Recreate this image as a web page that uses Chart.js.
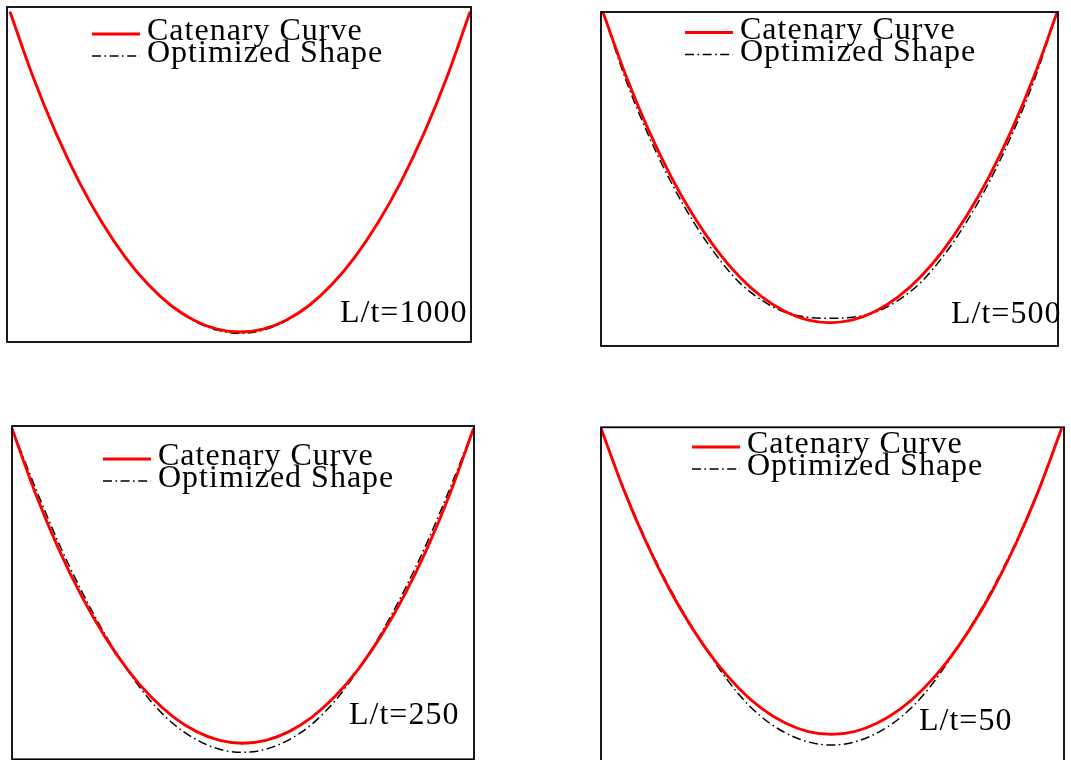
<!DOCTYPE html>
<html>
<head>
<meta charset="UTF-8">
<title>Catenary Curve vs Optimized Shape</title>
<script src="https://cdn.jsdelivr.net/npm/chart.js"></script>
<style>
  body {
    margin: 0;
    padding: 0;
    background: #ffffff;
    width: 1071px;
    height: 760px;
    overflow: hidden;
    position: relative;
  }
  canvas {
    position: absolute;
    display: block;
  }
</style>
</head>
<body>
<canvas id="p1" width="535" height="380" style="left:0;top:0"></canvas>
<canvas id="p2" width="536" height="380" style="left:535px;top:0"></canvas>
<canvas id="p3" width="535" height="400" style="left:0;top:380px"></canvas>
<canvas id="p4" width="536" height="400" style="left:535px;top:380px"></canvas>

<script>
  // normalised position along the span (-1 = left support, 1 = right support)
  const span = [-1.0, -0.9, -0.8, -0.7, -0.6, -0.5, -0.4, -0.3, -0.2, -0.1, 0.0,
                0.1, 0.2, 0.3, 0.4, 0.5, 0.6, 0.7, 0.8, 0.9, 1.0];

  // height above the lowest point of the catenary, supports at 100
  const catenary = [100, 79.7, 62.1, 47.0, 34.2, 23.5, 14.9, 8.3, 3.7, 0.9, 0,
                    0.9, 3.7, 8.3, 14.9, 23.5, 34.2, 47.0, 62.1, 79.7, 100];

  const optimized1000 = [100, 79.7, 62.1, 47.0, 34.2, 23.5, 14.9, 8.2, 3.5, 0.6, -0.4,
                         0.6, 3.5, 8.2, 14.9, 23.5, 34.2, 47.0, 62.1, 79.7, 100];
  const optimized500 = [100, 78.3, 60.4, 45.2, 32.3, 21.6, 13.0, 7.2, 3.4, 1.8, 1.4,
                        1.8, 3.4, 7.2, 13.0, 21.6, 32.3, 45.2, 60.4, 78.3, 100];
  const optimized250 = [100, 81.4, 64.0, 48.6, 35.0, 23.3, 13.5, 6.1, 1.1, -1.9, -2.9,
                        -1.9, 1.1, 6.1, 13.5, 23.3, 35.0, 48.6, 64.0, 81.4, 100];
  const optimized50 = [100, 80.1, 62.7, 47.6, 34.6, 22.9, 12.9, 5.5, 0.5, -2.5, -3.5,
                       -2.5, 0.5, 5.5, 12.9, 22.9, 34.6, 47.6, 62.7, 80.1, 100];

  const seriesNames = ['Catenary Curve', 'Optimized Shape'];
  const ratioLabels = ['L/t=1000', 'L/t=500', 'L/t=250', 'L/t=50'];

  const FONT = '32px "Liberation Serif", "DejaVu Serif", serif';

  // one entry per subplot: axis limits, frame padding and text placement
  const panels = [
    { id: 'p1', shape: optimized1000, label: ratioLabels[0],
      pad: { left: 7, top: 7, right: 64, bottom: 38 },
      x: [-1.013, 1.004], y: [-3.1, 101.5],
      legend: { x: 92, y: 40 }, note: { x: 340, y: 322 } },
    { id: 'p2', shape: optimized500, label: ratioLabels[1],
      pad: { left: 66, top: 12, right: 13, bottom: 34 },
      x: [-1.009, 1.004], y: [-7.5, 100.1],
      legend: { x: 150, y: 38.5 }, note: { x: 416, y: 323 } },
    { id: 'p3', shape: optimized250, label: ratioLabels[2],
      pad: { left: 12, top: 46, right: 61, bottom: 20.7 },
      x: [-1.0, 1.002], y: [-5.1, 100.8],
      legend: { x: 103, y: 85 }, note: { x: 349, y: 344 } },
    { id: 'p4', shape: optimized50, label: ratioLabels[3],
      pad: { left: 66, top: 47.3, right: 7, bottom: 12 },
      x: [-1.0, 1.01], y: [-11.0, 100.3],
      legend: { x: 157, y: 73 }, note: { x: 384, y: 350 } }
  ];

  const DASH_DOT = [9, 3.5, 1.6, 3.5];

  // frame, legend and L/t annotation drawn straight onto the chart canvas
  const panelDecor = {
    id: 'panelDecor',
    afterDatasetsDraw(chart, args, opts) {
      const ctx = chart.ctx;
      const a = chart.chartArea;
      ctx.save();
      ctx.strokeStyle = '#000';
      ctx.lineWidth = 1.8;
      ctx.setLineDash([]);
      ctx.strokeRect(a.left, a.top, a.right - a.left, a.bottom - a.top);

      ctx.font = FONT;
      ctx.letterSpacing = '1px';
      ctx.textAlign = 'left';
      ctx.textBaseline = 'alphabetic';

      const lx = opts.legend.x, ly = opts.legend.y;
      chart.data.datasets.forEach((ds, i) => {
        const by = ly + i * 22;
        ctx.beginPath();
        ctx.strokeStyle = ds.borderColor;
        ctx.lineWidth = ds.borderWidth;
        ctx.setLineDash(ds.borderDash || []);
        ctx.moveTo(lx, by - 6);
        ctx.lineTo(lx + 48, by - 6);
        ctx.stroke();
        ctx.setLineDash([]);
        ctx.fillStyle = '#000';
        ctx.fillText(ds.label, lx + 55, by);
      });

      ctx.fillText(opts.text, opts.note.x, opts.note.y);
      ctx.restore();
    }
  };

  panels.forEach(p => {
    const ctx = document.getElementById(p.id).getContext('2d');
    new Chart(ctx, {
      type: 'line',
      data: {
        labels: span,
        datasets: [
          {
            label: seriesNames[0],
            data: span.map((s, i) => ({ x: s, y: catenary[i] })),
            borderColor: '#ff0000',
            borderWidth: 2.9,
            pointRadius: 0,
            cubicInterpolationMode: 'monotone',
            order: 1
          },
          {
            label: seriesNames[1],
            data: span.map((s, i) => ({ x: s, y: p.shape[i] })),
            borderColor: '#000000',
            borderWidth: 1.5,
            borderDash: DASH_DOT,
            pointRadius: 0,
            cubicInterpolationMode: 'monotone',
            order: 2
          }
        ]
      },
      options: {
        responsive: false,
        animation: false,
        devicePixelRatio: 1,
        layout: { padding: p.pad },
        scales: {
          x: { type: 'linear', min: p.x[0], max: p.x[1], display: false },
          y: { type: 'linear', min: p.y[0], max: p.y[1], display: false }
        },
        plugins: {
          legend: { display: false },
          tooltip: { enabled: false },
          panelDecor: { legend: p.legend, note: p.note, text: p.label }
        }
      },
      plugins: [panelDecor]
    });
  });
</script>
</body>
</html>
